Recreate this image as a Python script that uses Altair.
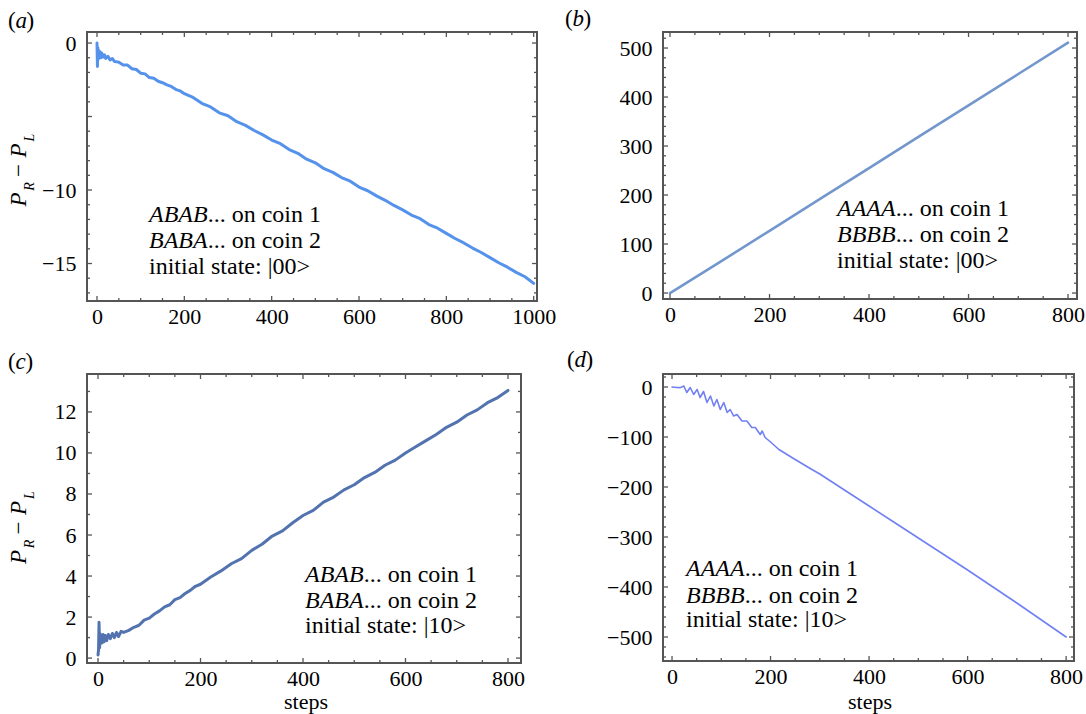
import altair as alt
import pandas as pd

FONT = "Liberation Serif"
TC = "#555555"

# ---------------- data ----------------
a_steps = [0, 1, 2, 3, 4, 5, 7, 9, 11, 14, 17, 20, 25, 30, 35, 40,
           50, 60, 70, 80, 90, 100, 110, 120, 130, 140, 150, 160, 170, 180, 190, 200,
           220, 240, 260, 280, 300, 320, 340, 360, 380, 400, 420, 440, 460, 480, 500,
           520, 540, 560, 580, 600, 620, 640, 660, 680, 700, 720, 740, 760, 780, 800,
           820, 840, 860, 880, 900, 920, 940, 960, 980, 1000]
a_vals = [0.0, -1.6, -0.3, -1.1, -0.5, -0.9, -0.6, -1.0, -0.7, -0.95, -0.8, -1.05, -0.9, -1.15, -1.05, -1.25,
          -1.3, -1.5, -1.5, -1.75, -1.8, -2.05, -2.1, -2.35, -2.4, -2.6, -2.7, -2.85, -2.95, -3.15, -3.25, -3.45,
          -3.7, -4.1, -4.35, -4.75, -4.95, -5.35, -5.6, -5.95, -6.25, -6.6, -6.85, -7.25, -7.5, -7.9, -8.15,
          -8.55, -8.8, -9.15, -9.4, -9.8, -10.05, -10.4, -10.7, -11.05, -11.35, -11.7, -11.95, -12.35, -12.6, -12.95,
          -13.3, -13.6, -13.95, -14.25, -14.6, -14.95, -15.25, -15.6, -15.9, -16.35]

b_steps = [0, 100, 200, 300, 400, 500, 600, 700, 800]
b_vals = [0, 63, 127, 191, 255, 319, 383, 447, 511]

c_steps = [0, 1, 2, 3, 4, 5, 6, 8, 10, 12, 14, 17, 20, 24, 28, 32, 36, 40, 45, 50,
           60, 70, 80, 90, 100, 110, 120, 130, 140, 150, 160, 170, 180, 190, 200,
           220, 240, 260, 280, 300, 320, 340, 360, 380, 400, 420, 440, 460, 480, 500,
           520, 540, 560, 580, 600, 620, 640, 660, 680, 700, 720, 740, 760, 780, 800]
c_vals = [0.15, 0.4, 1.75, 0.5, 1.2, 0.7, 1.1, 0.75, 1.15, 0.8, 1.1, 0.85, 1.15, 0.95, 1.2, 1.0, 1.25, 1.05, 1.3, 1.25,
          1.35, 1.5, 1.6, 1.85, 1.95, 2.15, 2.3, 2.5, 2.6, 2.85, 2.95, 3.15, 3.3, 3.5, 3.6,
          3.95, 4.25, 4.6, 4.85, 5.25, 5.55, 5.95, 6.2, 6.6, 6.95, 7.2, 7.6, 7.85, 8.2, 8.45,
          8.8, 9.05, 9.4, 9.65, 10.0, 10.3, 10.6, 10.9, 11.25, 11.5, 11.85, 12.1, 12.45, 12.7, 13.05]

d_steps = [0, 10, 17, 24, 30, 37, 44, 51, 57, 64, 71, 78, 85, 91, 98, 105, 112, 118, 125, 132,
           142, 152, 162, 169, 179, 183, 189, 200, 217, 250, 284, 300, 350, 400, 450, 500,
           550, 600, 650, 700, 750, 800]
d_vals = [0, -1, -1.3, 2, -11, -1, -15, -5, -21, -9, -31, -18, -38, -25, -45, -31, -51, -45, -58, -55,
          -68, -68, -81, -81, -95, -88, -101, -110, -125, -145, -165, -174, -206, -238, -270, -302,
          -334, -366, -399, -432, -466, -500]

# tick values
x_lab_a = [0, 200, 400, 600, 800, 1000]
x_min_a = [v for v in range(50, 1000, 50) if v % 200]
y_lab_a = [0, -10, -15]
y_maj_a = [0, -5, -10, -15]
y_min_a = [v for v in range(-17, 1) if v % 5]

x_lab_8 = [0, 200, 400, 600, 800]
x_min_8 = [v for v in range(50, 801, 50) if v % 200]

y_lab_b = [0, 100, 200, 300, 400, 500]
y_min_b = [v for v in range(20, 521, 20) if v % 100]

y_lab_c = [0, 2, 4, 6, 8, 10, 12]
y_min_c = [1, 3, 5, 7, 9, 11, 13]

y_lab_d = [0, -100, -200, -300, -400, -500]
y_min_d = [v for v in range(-540, 21, 20) if v % 100]

ONE = pd.DataFrame({"k": [0]})


def T(x, y, s, size=24, italic=False, angle=0, align="left", baseline="alphabetic"):
    kw = dict(font=FONT, fontSize=size, fontStyle="italic" if italic else "normal",
              color="black", align=align, baseline=baseline)
    if angle:
        kw["angle"] = angle
    return alt.Chart(ONE).mark_text(**kw).encode(
        x=alt.value(x), y=alt.value(y), text=alt.value(s))


def annot(x, ys, it1, it2, state, size=24):
    w = 2.444 * size
    return [T(x, ys[0], it1, size, True), T(x + w, ys[0], "... on coin 1", size),
            T(x, ys[1], it2, size, True), T(x + w, ys[1], "... on coin 2", size),
            T(x, ys[2], "initial state: |" + state + ">", size)]


def letter(x, y, ch, w):
    return [T(x, y, "(", 23), T(x + 7.6, y, ch, 23, True), T(x + 7.6 + w, y, ")", 23)]


def ytitle(cy):
    xb, xs = -61, -53
    return [T(xb, cy + 32.5, "P", 23, True, 270, "center"),
            T(xs, cy + 19.5, "R", 14, True, 270, "center"),
            T(xb, cy + 3.5, "\u2212", 23, False, 270, "center"),
            T(xb, cy - 16.5, "P", 23, True, 270, "center"),
            T(xs, cy - 29.5, "L", 14, True, 270, "center")]


def panel(steps, vals, color, sw, xdom, ydom, W, H, xlab, ylab, xmaj, xmin, ymaj, ymin, extras):
    xs = alt.Scale(domain=xdom, nice=False, zero=False)
    ys = alt.Scale(domain=ydom, nice=False, zero=False)
    xa = alt.Axis(values=xlab, title=None, format="d")
    ya = alt.Axis(values=ylab, title=None, format="d")
    df = pd.DataFrame({"step": steps, "val": vals})
    line = alt.Chart(df).mark_line(color=color, strokeWidth=sw, strokeJoin="round",
                                   strokeCap="round").encode(
        x=alt.X("step:Q", scale=xs, axis=xa),
        y=alt.Y("val:Q", scale=ys, axis=ya))
    layers = [line]
    for tv, L in ((xmaj, 5), (xmin, 3)):
        d = pd.DataFrame({"v": tv})
        base = alt.Chart(d).mark_rule(color=TC, strokeWidth=1.3)
        layers.append(base.encode(x=alt.X("v:Q", scale=xs, axis=xa),
                                  y=alt.value(H), y2=alt.value(H - L)))
        layers.append(base.encode(x=alt.X("v:Q", scale=xs, axis=xa),
                                  y=alt.value(0), y2=alt.value(L)))
    for tv, L in ((ymaj, 5), (ymin, 3)):
        d = pd.DataFrame({"v": tv})
        base = alt.Chart(d).mark_rule(color=TC, strokeWidth=1.3)
        layers.append(base.encode(y=alt.Y("v:Q", scale=ys, axis=ya),
                                  x=alt.value(0), x2=alt.value(L)))
        layers.append(base.encode(y=alt.Y("v:Q", scale=ys, axis=ya),
                                  x=alt.value(W), x2=alt.value(W - L)))
    layers += extras
    return alt.layer(*layers).properties(width=W, height=H)


anchor = alt.Chart(ONE).mark_rule(strokeWidth=0, opacity=0).encode(
    x=alt.value(-86), x2=alt.value(-86), y=alt.value(-31), y2=alt.value(-20))

pa = panel(a_steps, a_vals, "#5592ec", 3, [-22.9, 1007.6], [-17.55, 0.75], 450, 269,
           x_lab_a, y_lab_a, x_lab_a, x_min_a, y_maj_a, y_min_a,
           [anchor] + annot(62, [190, 216, 242], "ABAB", "BABA", "00")
           + letter(-79, -4, "a", 11) + ytitle(135))

pb = panel(b_steps, b_vals, "#7397cc", 2.6, [-14.1, 818], [-12.2, 532.7], 414, 267,
           x_lab_8, y_lab_b, x_lab_8, x_min_8, y_lab_b, y_min_b,
           annot(174, [184, 210, 236], "AAAA", "BBBB", "00") + letter(-98, -6, "b", 11))

pc = panel(c_steps, c_vals, "#5273b0", 3, [-21.5, 825.4], [-0.24, 13.85], 434, 289,
           x_lab_8, y_lab_c, x_lab_8, x_min_8, y_lab_c, y_min_c,
           annot(218, [208, 234, 259], "ABAB", "BABA", "10") + letter(-79, -5, "c", 9.8)
           + ytitle(150.5) + [T(219, 335, "steps", 22, align="center")])

pd_ = panel(d_steps, d_vals, "#7080f2", 1.6, [-18.3, 816], [-548, 26], 411, 287,
            x_lab_8, y_lab_d, x_lab_8, x_min_8, y_lab_d, y_min_d,
            annot(23, [202, 229, 253], "AAAA", "BBBB", "10") + letter(-96, -7, "d", 11)
            + [T(207, 335, "steps", 22, align="center")])

chart = alt.concat(pa, pb, pc, pd_, columns=2, spacing={"row": 73, "column": 126},
                   bounds="flush", align="each").properties(
    padding=0, background="white"
).configure_view(
    stroke=TC, strokeWidth=2
).configure_axis(
    labelFont=FONT, labelFontSize=22, labelColor="black", ticks=False, tickSize=0,
    domain=False, grid=False
).configure_axisX(labelPadding=5).configure_axisY(labelPadding=11)

chart.save("out.html", embed_options={"renderer": "svg", "actions": False})
